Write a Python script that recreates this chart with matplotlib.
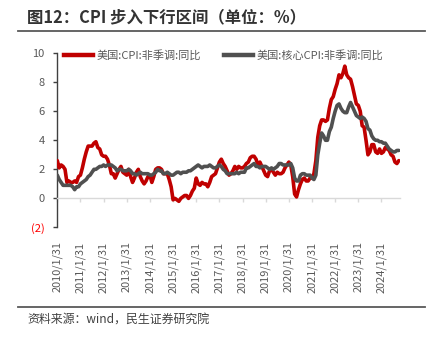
import numpy as np
import matplotlib
matplotlib.use("Agg")
import matplotlib.pyplot as plt
from matplotlib.lines import Line2D

plt.rcParams['font.family'] = ['Noto Sans CJK SC', 'DejaVu Sans']

cpi = [2.6, 2.1, 2.3, 2.2, 2.0, 1.1, 1.2, 1.1, 1.1, 1.2, 1.1, 1.5,
       1.6, 2.1, 2.7, 3.2, 3.6, 3.6, 3.6, 3.8, 3.9, 3.5, 3.4, 3.0,
       2.9, 2.9, 2.7, 2.3, 1.7, 1.7, 1.4, 1.7, 2.0, 2.2, 1.8, 1.7,
       1.6, 2.0, 1.5, 1.1, 1.4, 1.8, 2.0, 1.5, 1.2, 1.0, 1.2, 1.5,
       1.6, 1.1, 1.5, 2.0, 2.1, 2.1, 2.0, 1.7, 1.7, 1.7, 1.3, 0.8,
       -0.1, 0.0, -0.1, -0.2, 0.0, 0.1, 0.2, 0.2, 0.0, 0.2, 0.5, 0.7,
       1.4, 1.0, 0.9, 1.1, 1.0, 1.0, 0.8, 1.1, 1.5, 1.6, 1.7, 2.1,
       2.5, 2.7, 2.4, 2.2, 1.9, 1.6, 1.7, 1.9, 2.2, 2.0, 2.2, 2.1,
       2.1, 2.2, 2.4, 2.5, 2.8, 2.9, 2.9, 2.7, 2.3, 2.5, 2.2, 1.9,
       1.6, 1.5, 1.9, 2.0, 1.8, 1.6, 1.8, 1.7, 1.7, 1.8, 2.1, 2.3,
       2.5, 2.3, 1.5, 0.3, 0.1, 0.6, 1.0, 1.3, 1.4, 1.2, 1.2, 1.4,
       1.4, 1.7, 2.6, 4.2, 5.0, 5.4, 5.4, 5.3, 5.4, 6.2, 6.8, 7.0,
       7.5, 7.9, 8.5, 8.3, 8.6, 9.1, 8.5, 8.3, 8.2, 7.7, 7.1, 6.5,
       6.4, 6.0, 5.0, 4.9, 4.0, 3.0, 3.2, 3.7, 3.7, 3.2, 3.1, 3.4,
       3.1, 3.2, 3.5, 3.4, 3.3, 3.0, 2.9, 2.5, 2.4, 2.6]

core = [1.6, 1.3, 1.1, 0.9, 0.9, 0.9, 0.9, 0.9, 0.8, 0.6, 0.8, 0.8,
        1.0, 1.1, 1.2, 1.3, 1.5, 1.6, 1.8, 2.0, 2.0, 2.1, 2.2, 2.2,
        2.3, 2.2, 2.3, 2.3, 2.3, 2.2, 2.1, 1.9, 2.0, 2.0, 1.9, 1.9,
        1.9, 2.0, 1.9, 1.7, 1.7, 1.6, 1.7, 1.8, 1.7, 1.7, 1.7, 1.7,
        1.6, 1.6, 1.7, 1.8, 2.0, 1.9, 1.9, 1.7, 1.7, 1.8, 1.7, 1.6,
        1.6, 1.7, 1.8, 1.8, 1.7, 1.8, 1.8, 1.8, 1.9, 1.9, 2.0, 2.1,
        2.2, 2.3, 2.2, 2.1, 2.2, 2.2, 2.2, 2.3, 2.2, 2.1, 2.1, 2.2,
        2.3, 2.2, 2.0, 1.9, 1.7, 1.7, 1.7, 1.7, 1.7, 1.8, 1.7, 1.8,
        1.8, 1.8, 2.1, 2.1, 2.2, 2.3, 2.4, 2.2, 2.2, 2.1, 2.2, 2.2,
        2.2, 2.1, 2.0, 2.1, 2.0, 2.1, 2.2, 2.4, 2.4, 2.3, 2.3, 2.3,
        2.3, 2.4, 2.1, 1.4, 1.2, 1.2, 1.6, 1.7, 1.7, 1.6, 1.6, 1.6,
        1.4, 1.3, 1.6, 3.0, 3.8, 4.5, 4.3, 4.0, 4.0, 4.6, 4.9, 5.5,
        6.0, 6.4, 6.5, 6.2, 6.0, 5.9, 5.9, 6.3, 6.6, 6.3, 6.0, 5.7,
        5.6, 5.5, 5.6, 5.5, 5.3, 4.8, 4.7, 4.3, 4.1, 4.0, 4.0, 3.9,
        3.9, 3.8, 3.8, 3.6, 3.4, 3.3, 3.2, 3.2, 3.3, 3.3]

start_year = 2010
tick_years = list(range(2010, 2025))
tick_labels = [f"{y}/1/31" for y in tick_years]
ytick_vals = [10, 8, 6, 4, 2, 0, -2]
ytick_labels = ["10", "8", "6", "4", "2", "0", "(2)"]

label_cpi = "美国:CPI:非季调:同比"
label_core = "美国:核心CPI:非季调:同比"
title = "图12：CPI 步入下行区间（单位：%）"
source = "资料来源：wind，民生证券研究院"

red = "#C00000"
dgray = "#505050"
tgray = "#595959"

x = start_year + np.arange(len(cpi)) / 12.0

fig = plt.figure(figsize=(4.36, 3.38), dpi=100)
ax = fig.add_axes([0.1314, 0.327, 0.786, 0.516])

ax.plot(x, cpi, color=red, lw=2.6, solid_capstyle='round', zorder=3)
ax.plot(x, core, color=dgray, lw=2.6, solid_capstyle='round', zorder=4)

ax.set_xlim(2010.0, 2024.8)
ax.set_ylim(-2, 10)

for s in ['top', 'right']:
    ax.spines[s].set_visible(False)
ax.spines['left'].set_color('#404040')
ax.spines['left'].set_linewidth(1.0)
ax.spines['bottom'].set_position(('data', 0))
ax.spines['bottom'].set_color('#d9d9d9')
ax.spines['bottom'].set_linewidth(1.0)

ax.set_yticks(ytick_vals)
ax.set_yticklabels(ytick_labels)
ax.tick_params(axis='y', direction='out', length=3, width=1.0, color='#404040',
               labelsize=8, labelcolor=tgray, pad=6)
for lab, v in zip(ax.get_yticklabels(), ytick_vals):
    if v < 0:
        lab.set_color('red')

ax.set_xticks(tick_years)
ax.set_xticklabels(tick_labels, rotation=90, fontsize=7.9, color=tgray)
ax.tick_params(axis='x', direction='out', length=3, width=1.0, color='#d9d9d9', pad=28)

handles = [Line2D([0], [0], color=red, lw=3.2),
           Line2D([0], [0], color=dgray, lw=3.2)]
leg = ax.legend(handles, [label_cpi, label_core], ncol=2, frameon=False,
                loc='upper left', bbox_to_anchor=(-0.01, 1.075), fontsize=8,
                handlelength=2.6, handletextpad=0.3, columnspacing=2.15,
                labelcolor=tgray)

fig.text(0.062, 0.948, title, fontsize=11.8, fontweight='bold', color='#333333',
         ha='left', va='center')
fig.add_artist(Line2D([0.041, 0.975], [0.908, 0.908], color=tgray, lw=1.3,
                      transform=fig.transFigure))
fig.add_artist(Line2D([0.041, 0.975], [0.093, 0.093], color=tgray, lw=1.3,
                      transform=fig.transFigure))
fig.text(0.062, 0.055, source, fontsize=8.6, color='#404040', ha='left', va='center')

fig.savefig("out.png", dpi=100)
